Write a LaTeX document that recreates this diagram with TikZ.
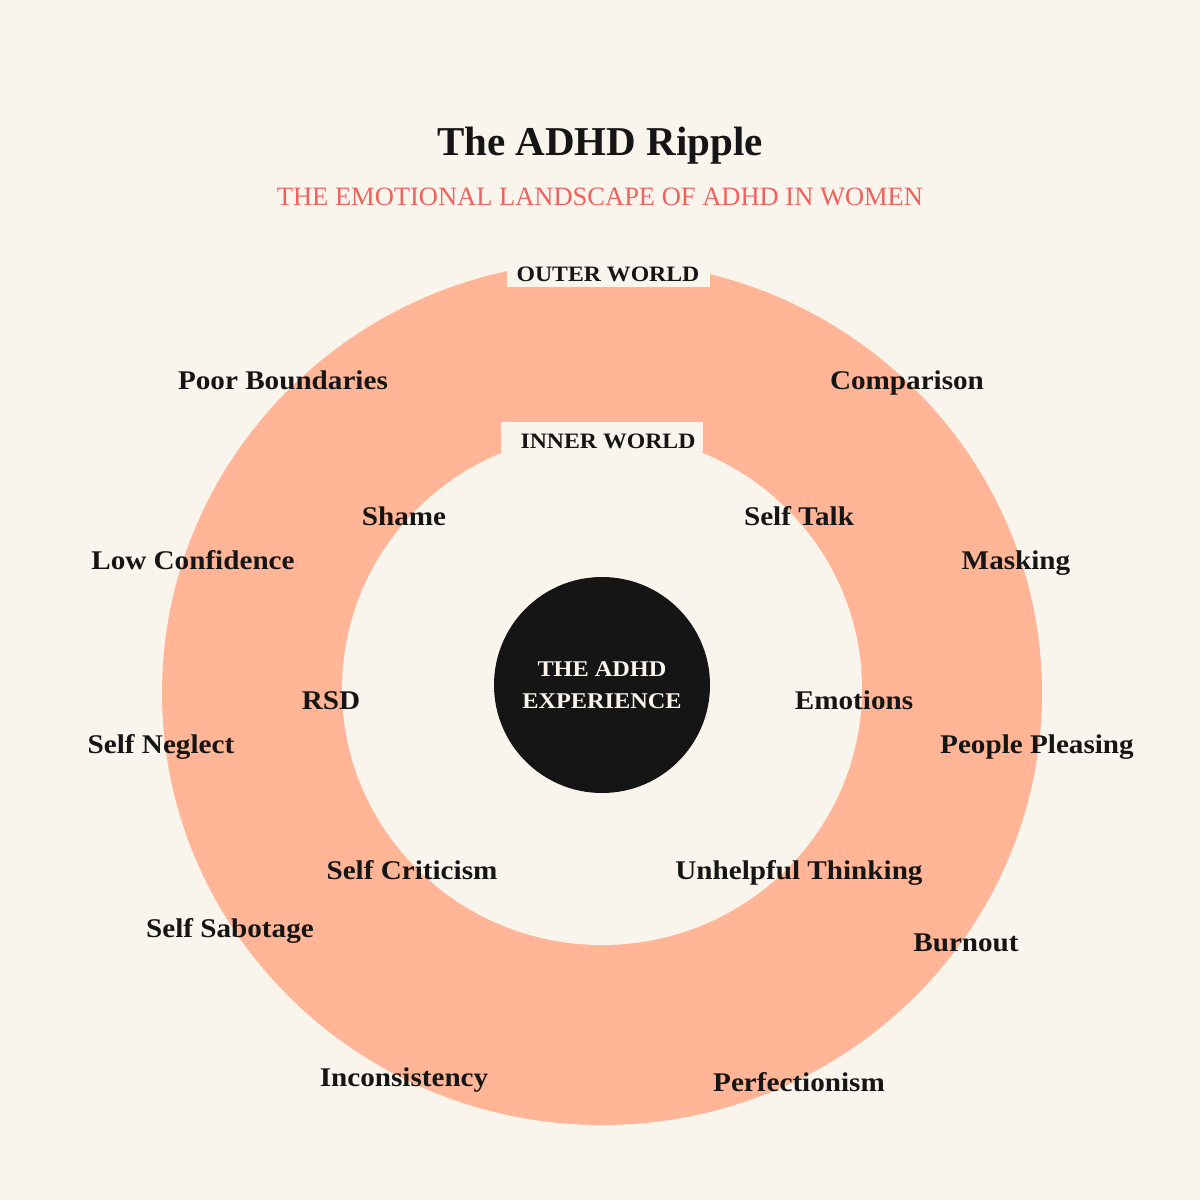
\documentclass[tikz,border=0pt]{standalone}
\usepackage{fontspec}
\setmainfont{Liberation Serif}
\newfontfamily\disp[FakeStretch=1.08]{Liberation Serif}
\definecolor{bgc}{HTML}{F9F4EC}
\definecolor{peach}{HTML}{FFB596}
\definecolor{coral}{HTML}{F0625D}
\definecolor{ink}{HTML}{151515}
\tikzset{
  lbl/.style={anchor=base, inner sep=0pt, text=ink, font=\disp\bfseries\fontsize{27}{30}\selectfont},
  world/.style={anchor=base, inner sep=0pt, text=ink, font=\disp\bfseries\fontsize{22}{24}\selectfont},
  core/.style={anchor=base, inner sep=0pt, text=bgc, font=\disp\bfseries\fontsize{22.5}{24}\selectfont},
}
\begin{document}
\begin{tikzpicture}[x=1pt,y=-1pt]
\fill[bgc] (0,0) rectangle (1200,1200);
\useasboundingbox (0,0) rectangle (1200,1200);
% rings
\fill[peach] (602,693) ellipse [x radius=440, y radius=432];
\fill[bgc] (602,689) ellipse [x radius=260, y radius=256];
\fill[bgc] (507,255) rectangle (710,287);
\fill[bgc] (501,422) rectangle (703,452);
\node[circle, fill=ink, minimum size=216pt, inner sep=0pt] (centre) at (602,685) {};
% titles
\node[anchor=base, inner sep=0pt, text=ink, font=\bfseries\fontsize{41}{44}\selectfont] (title) at (600,155) {The ADHD Ripple};
\node[anchor=base, inner sep=0pt, text=coral, font=\fontsize{26.5}{28}\selectfont] (subtitle) at (600,205) {THE EMOTIONAL LANDSCAPE OF ADHD IN WOMEN};
\node[world] (outer) at (608,281) {OUTER WORLD};
\node[world] (inner) at (608,448) {INNER WORLD};
\node[core] (c1) at (602,676) {THE ADHD};
\node[core] (c2) at (602,708) {EXPERIENCE};
% labels
\node[lbl] (pb) at (283,389) {Poor Boundaries};
\node[lbl] (cmp) at (907,389) {Comparison};
\node[lbl] (sh) at (404,525) {Shame};
\node[lbl] (st) at (799,525) {Self Talk};
\node[lbl] (lc) at (193,569) {Low Confidence};
\node[lbl] (mk) at (1016,569) {Masking};
\node[lbl] (rsd) at (331,709) {RSD};
\node[lbl] (em) at (854,709) {Emotions};
\node[lbl] (sn) at (161,753) {Self Neglect};
\node[lbl] (pp) at (1037,753) {People Pleasing};
\node[lbl] (sc) at (412,879) {Self Criticism};
\node[lbl] (ut) at (799,879) {Unhelpful Thinking};
\node[lbl] (ss) at (230,937) {Self Sabotage};
\node[lbl] (bo) at (966,951) {Burnout};
\node[lbl] (inc) at (404,1086) {Inconsistency};
\node[lbl] (pf) at (799,1091) {Perfectionism};
\end{tikzpicture}
\end{document}
